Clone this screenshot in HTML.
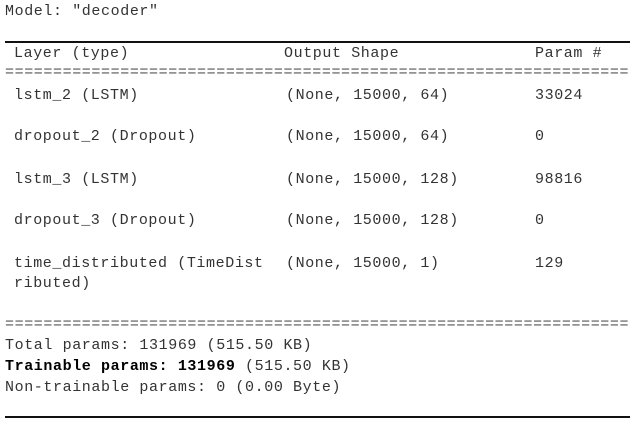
<!DOCTYPE html>
<html><head><meta charset="utf-8"><style>
body{margin:0;width:635px;height:424px;background:#fff;overflow:hidden;position:relative;font-family:"Liberation Mono","Courier New",monospace;font-size:15px;letter-spacing:0.6px;color:#333}
.t{position:absolute;white-space:pre;line-height:20px}
.hr{position:absolute;left:5px;width:625px;height:1.5px;background:#111}
.eq{position:absolute;left:5px;white-space:pre;line-height:20px;overflow:hidden;width:625px;color:#555}
b{font-weight:bold;color:#000}
</style></head><body>
<div class="t" style="left:5px;top:2px">Model: "decoder"</div>
<div class="hr" style="top:41px"></div>
<div class="t" style="left:14px;top:44px">Layer (type)</div>
<div class="t" style="left:284px;top:44px">Output Shape</div>
<div class="t" style="left:535px;top:44px">Param #</div>
<div class="eq" style="top:63px">==================================================================</div>

<div class="t" style="left:14px;top:86px">lstm_2 (LSTM)</div>
<div class="t" style="left:286px;top:86px">(None, 15000, 64)</div>
<div class="t" style="left:535px;top:86px">33024</div>

<div class="t" style="left:14px;top:127px">dropout_2 (Dropout)</div>
<div class="t" style="left:286px;top:127px">(None, 15000, 64)</div>
<div class="t" style="left:535px;top:127px">0</div>

<div class="t" style="left:14px;top:170px">lstm_3 (LSTM)</div>
<div class="t" style="left:286px;top:170px">(None, 15000, 128)</div>
<div class="t" style="left:535px;top:170px">98816</div>

<div class="t" style="left:14px;top:211px">dropout_3 (Dropout)</div>
<div class="t" style="left:286px;top:211px">(None, 15000, 128)</div>
<div class="t" style="left:535px;top:211px">0</div>

<div class="t" style="left:14px;top:254px">time_distributed (TimeDist
ributed)</div>
<div class="t" style="left:286px;top:254px">(None, 15000, 1)</div>
<div class="t" style="left:535px;top:254px">129</div>

<div class="eq" style="top:315px">==================================================================</div>
<div class="t" style="left:5px;top:336px">Total params: 131969 (515.50 KB)</div>
<div class="t" style="left:5px;top:357px"><b>Trainable params: 131969</b> (515.50 KB)</div>
<div class="t" style="left:5px;top:378px">Non-trainable params: 0 (0.00 Byte)</div>
<div class="hr" style="top:416px"></div>
</body></html>
